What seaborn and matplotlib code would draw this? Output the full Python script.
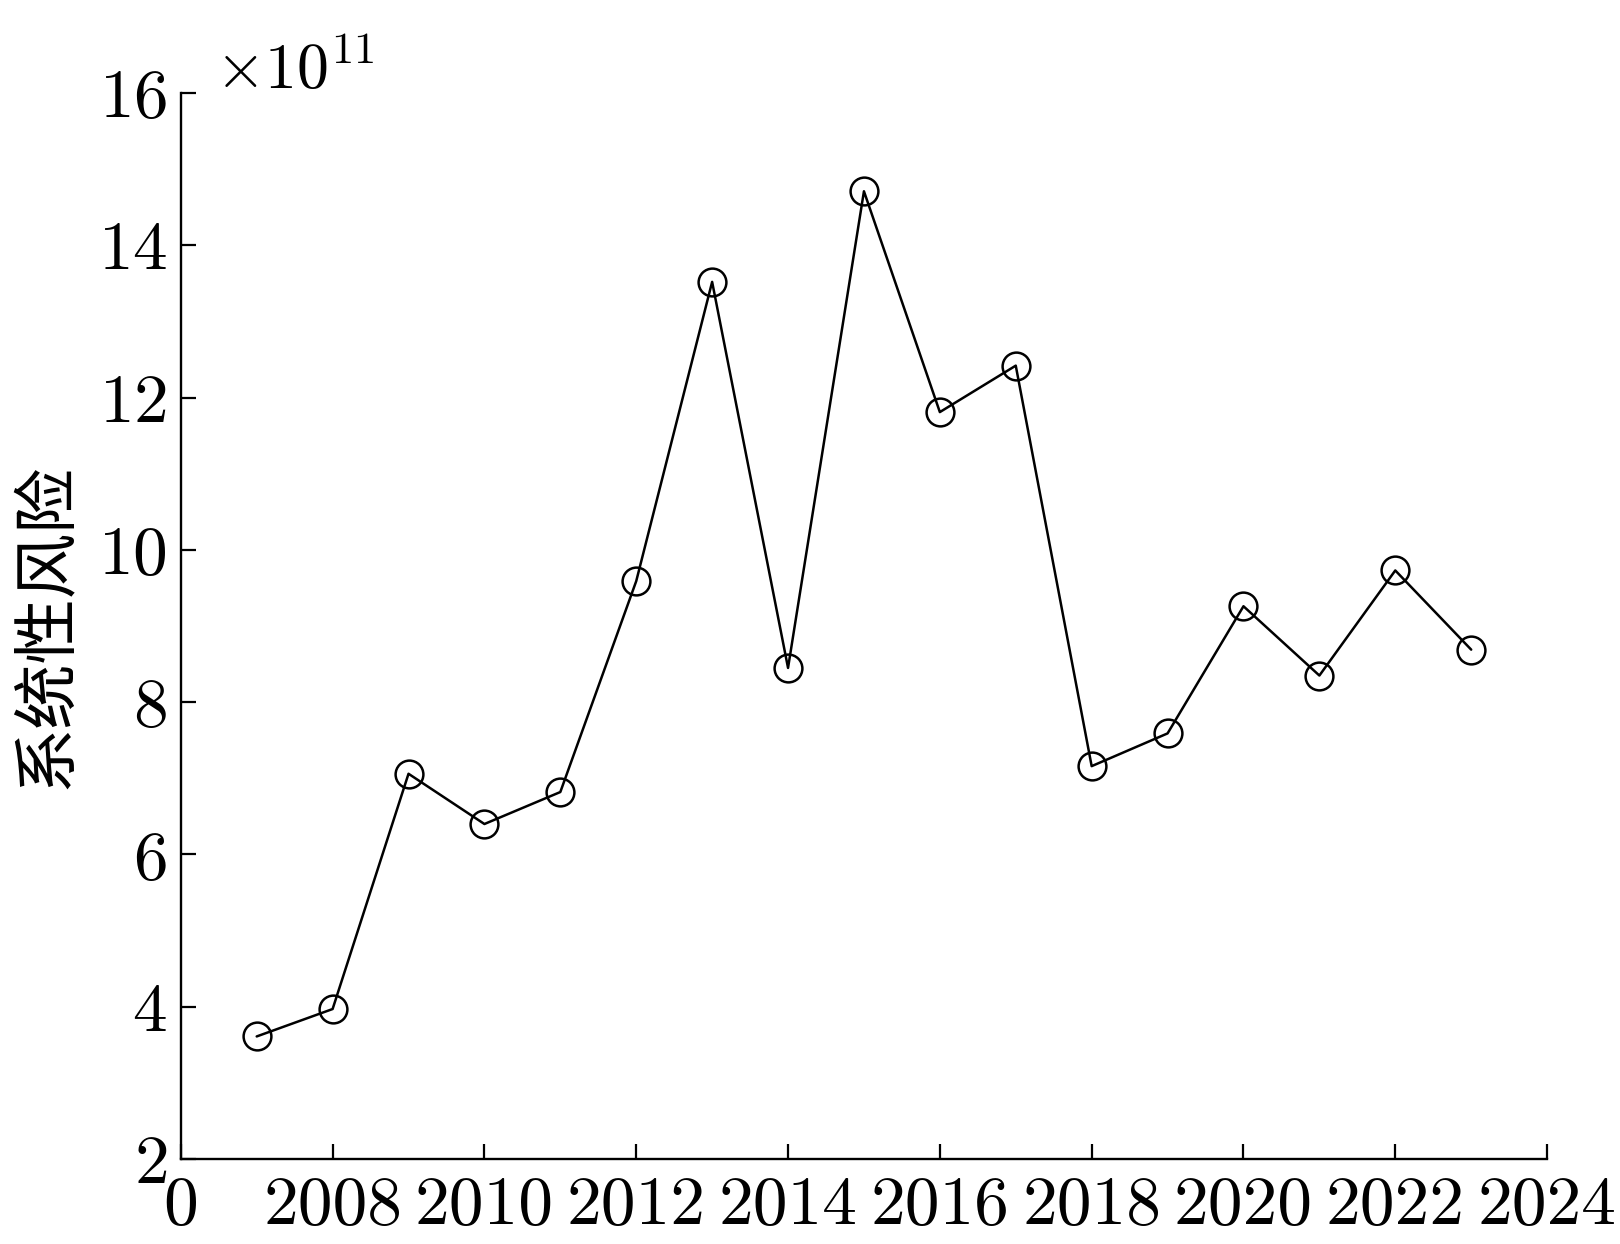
import matplotlib
matplotlib.use("Agg")
import matplotlib.pyplot as plt
import seaborn as sns
import pandas as pd

years = [2007, 2008, 2009, 2010, 2011, 2012, 2013, 2014, 2015, 2016, 2017,
         2018, 2019, 2020, 2021, 2022, 2023]
risk = [3.61, 3.97, 7.06, 6.40, 6.82, 9.59, 13.52, 8.45, 14.71, 11.81, 12.42,
        7.16, 7.59, 9.26, 8.35, 9.73, 8.69]
scale = 1e11
x_ticks = [2006, 2008, 2010, 2012, 2014, 2016, 2018, 2020, 2022, 2024]
x_labels = ["0", "2008", "2010", "2012", "2014", "2016", "2018", "2020", "2022", "2024"]
y_ticks = [2, 4, 6, 8, 10, 12, 14, 16]
y_label = "系统性风险"

sns.set_style("ticks")
plt.rcParams["font.family"] = ["cmr10", "DejaVu Serif"]
plt.rcParams["mathtext.fontset"] = "cm"
plt.rcParams["axes.formatter.use_mathtext"] = True
plt.rcParams["axes.unicode_minus"] = False
plt.rcParams["text.color"] = "black"
plt.rcParams["xtick.color"] = "black"
plt.rcParams["ytick.color"] = "black"
plt.rcParams["axes.edgecolor"] = "black"
plt.rcParams["axes.labelcolor"] = "black"

df = pd.DataFrame({"year": years, "risk": [v * scale for v in risk]})

fig = plt.figure(figsize=(16.2, 12.44), dpi=100)
ax = fig.add_axes([0.1116, 0.0683, 0.955 - 0.1116, 0.9252 - 0.0683])

sns.lineplot(data=df, x="year", y="risk", ax=ax, color="black", linewidth=1.8,
             marker="o", markersize=20, markerfacecolor="none",
             markeredgecolor="black", markeredgewidth=1.8)

ax.set_xlim(2006, 2024)
ax.set_ylim(2 * scale, 16 * scale)
ax.set_xticks(x_ticks)
ax.set_xticklabels(x_labels)
ax.set_yticks([t * scale for t in y_ticks])
fmt = matplotlib.ticker.ScalarFormatter(useMathText=True)
fmt.set_powerlimits((11, 11))
ax.yaxis.set_major_formatter(fmt)

ax.tick_params(direction="in", length=11, width=1.6, labelsize=50, pad=10)
ax.tick_params(axis="x", pad=12)
for s in ["top", "right"]:
    ax.spines[s].set_visible(False)
for s in ["left", "bottom"]:
    ax.spines[s].set_linewidth(1.7)

ax.set_xlabel("")
ax.set_ylabel(y_label, fontsize=47, family=["Noto Sans CJK SC", "DejaVu Sans"], labelpad=12)

ot = ax.yaxis.get_offset_text()
ot.set_fontsize(46)
ot.set_x(0.025)

fig.savefig("out.png", dpi=100, facecolor="white")
